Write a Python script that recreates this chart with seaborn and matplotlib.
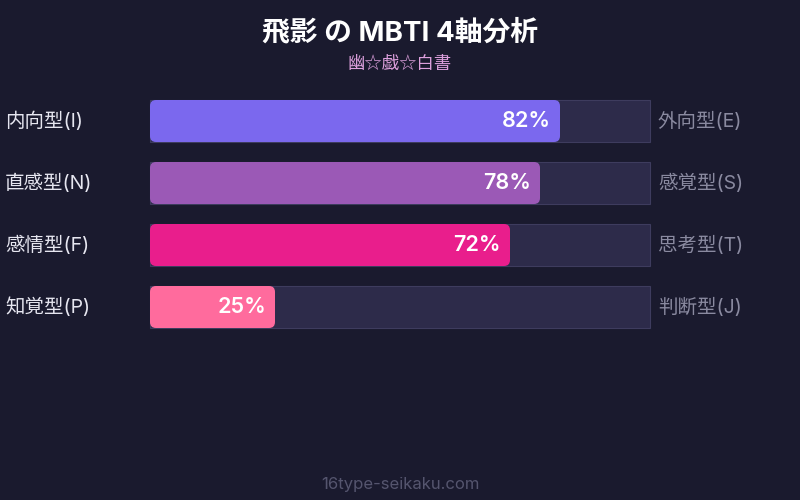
import matplotlib
matplotlib.use("Agg")
import matplotlib.pyplot as plt
from matplotlib.patches import FancyBboxPatch
import pandas as pd
import seaborn as sns

# ─────────────────────────────────────────────
# DATA
# ─────────────────────────────────────────────
left_labels = ["内向型(I)", "直感型(N)", "感情型(F)", "知覚型(P)"]
right_labels = ["外向型(E)", "感覚型(S)", "思考型(T)", "判断型(J)"]
scores = [82, 78, 72, 25]
bar_colors = ["#7b68ee", "#9b59b6", "#e91e8c", "#ff6b9d"]
title = "飛影 の MBTI 4軸分析"
subtitle = "幽☆戯☆白書"
footer = "16type-seikaku.com"

BG = "#1a1a2e"
TRACK = "#2d2b4a"
TRACK_EDGE = "#3e3c5e"

sns.set_theme(style="white")
plt.rcParams["font.family"] = ["Inter", "Noto Sans CJK JP", "DejaVu Sans"]

fig = plt.figure(figsize=(8, 5), dpi=100, facecolor=BG)
ax = fig.add_axes([0, 0, 1, 1])
ax.set_facecolor(BG)

df = pd.DataFrame({"axis": left_labels, "score": scores, "full": [100] * len(scores)})

# background tracks
sns.barplot(data=df, y="axis", x="full", color=TRACK, saturation=1, width=42 / 62,
            ax=ax, edgecolor=TRACK_EDGE, linewidth=0.8)
n_track = len(ax.patches)
# filled bars
sns.barplot(data=df, y="axis", x="score", hue="axis", palette=bar_colors,
            saturation=1, legend=False, width=42 / 62, ax=ax)

# pixel mapping: x 0->150px, 100->650px ; row i centre at 121 + 62*i px
ax.set_xlim(-30, 130)
ax.set_ylim((500 - 121) / 62, -121 / 62)
ax.axis("off")

# round the filled bars
rx = 6 / 5.0
ry = 6 / 62.0
for p in list(ax.patches)[n_track:]:
    x, y, w, h = p.get_x(), p.get_y(), p.get_width(), p.get_height()
    fc = p.get_facecolor()
    p.remove()
    ax.add_patch(FancyBboxPatch((x, y), w, h,
                                boxstyle=f"round,pad=0,rounding_size={rx}",
                                mutation_aspect=ry / rx, facecolor=fc,
                                edgecolor="none", zorder=3))

for i, (l, r, s) in enumerate(zip(left_labels, right_labels, scores)):
    ax.text(-29, i, l, ha="left", va="center", color="#e6e6f0", fontsize=14)
    ax.text(101.6, i, r, ha="left", va="center", color="#8a8aa0", fontsize=14)
    ax.text(s - 1.8, i, f"{s}%", ha="right", va="center", color="white",
            fontsize=15.5, fontweight="semibold", zorder=4)

fig.text(0.5, 1 - 33 / 500, title, ha="center", va="center", color="white",
         fontsize=20, fontweight="bold")
fig.text(0.5, 1 - 64 / 500, subtitle, ha="center", va="center", color="#dda0dd",
         fontsize=12.5, family=["Noto Sans CJK JP", "DejaVu Sans"])
fig.text(0.5, 1 - 484 / 500, footer, ha="center", va="center", color="#55556e",
         fontsize=12)

fig.savefig("out.png", dpi=100, facecolor=BG)
